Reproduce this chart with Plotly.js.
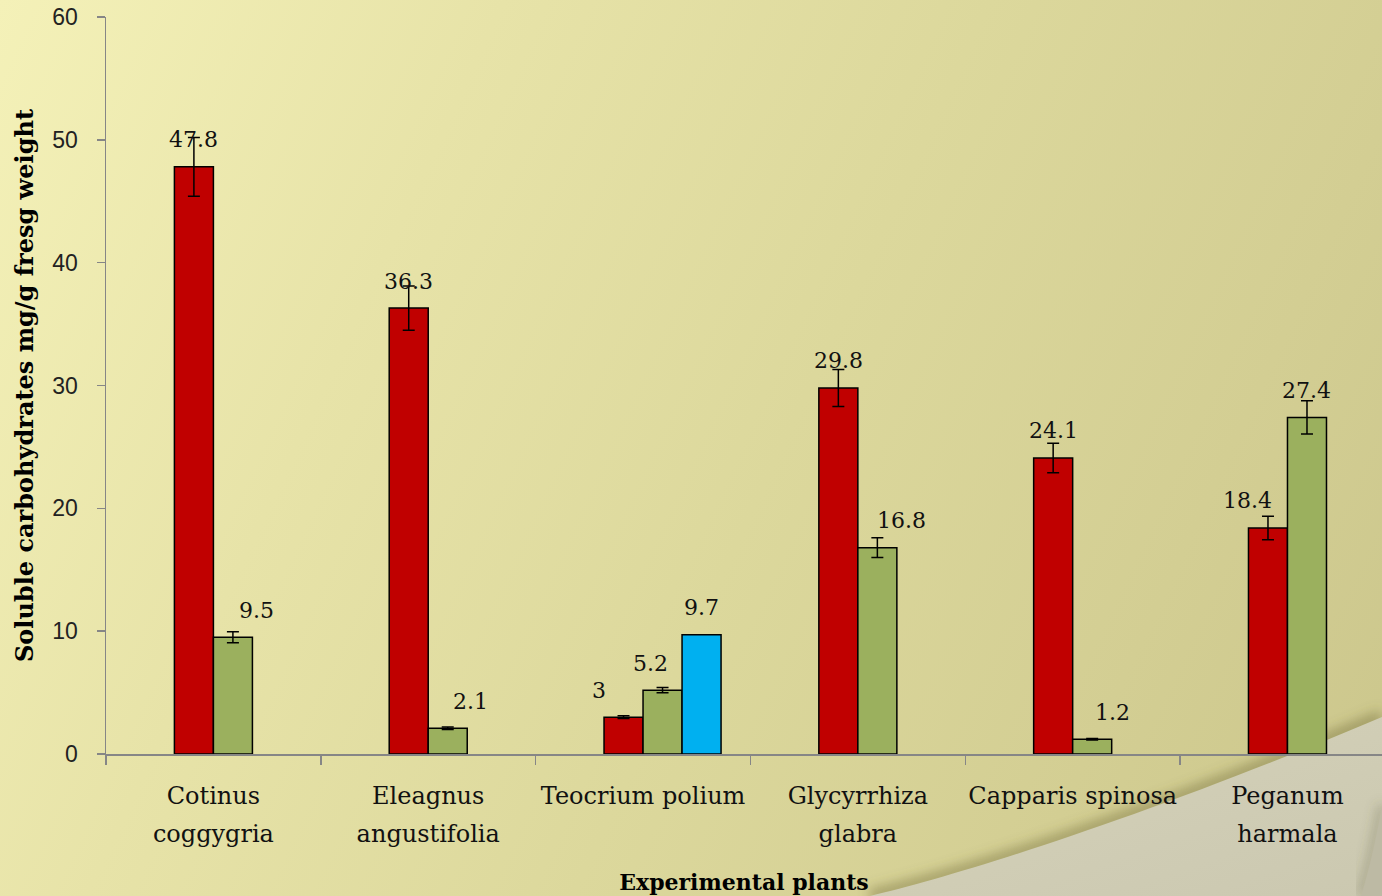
<!DOCTYPE html>
<html>
<head>
<meta charset="utf-8">
<script src="https://cdn.plot.ly/plotly-3.0.1.min.js"></script>
<style>
  html, body { margin:0; padding:0; overflow:hidden; }
  #wrap { position:relative; width:1382px; height:896px;
    background: linear-gradient(115deg, #f4f1b8 0%, #e7e3a8 28%, #dcd89c 55%, #d3ce93 80%, #cbc68c 100%); }
  #curl { position:absolute; left:0; top:0; }
  #chart { position:absolute; left:0; top:0; width:1382px; height:896px; }
</style>
</head>
<body>
<div id="wrap">
  <svg id="curl" width="1382" height="896">
    <defs>
      <filter id="blur" x="-20%" y="-20%" width="140%" height="140%"><feGaussianBlur stdDeviation="6"/></filter>
      <linearGradient id="lightG" x1="0" y1="0" x2="1" y2="1">
        <stop offset="0" stop-color="#d6d3bb"/>
        <stop offset="1" stop-color="#cbc8b0"/>
      </linearGradient>
    </defs>
    <path d="M 870 896 C 960 875, 1150 815, 1382 717" fill="none" stroke="rgba(110,105,55,0.45)" stroke-width="14" filter="url(#blur)"/>
    <path d="M 870 896 C 960 875, 1150 815, 1382 717 L 1382 896 Z" fill="url(#lightG)"/>
    <path d="M 1382 805 C 1376 840, 1369 870, 1361 896" fill="none" stroke="rgba(90,88,60,0.35)" stroke-width="8" filter="url(#blur)"/>
    <path d="M 1382 805 C 1376 840, 1369 870, 1361 896 L 1382 896 Z" fill="#bdbaa4"/>
  </svg>
  <div id="chart"></div>
</div>
<script>
// ---- data ----
const categories = ["Cotinus<br>coggygria", "Eleagnus<br>angustifolia", "Teocrium polium",
                    "Glycyrrhiza<br>glabra", "Capparis spinosa", "Peganum<br>harmala"];
const redValues   = [47.8, 36.3, 3, 29.8, 24.1, 18.4];
const redErrors   = [2.4, 1.8, 0.12, 1.5, 1.2, 0.95];
const greenValues = [9.5, 2.1, 5.2, 16.8, 1.2, 27.4];
const greenErrors = [0.45, 0.1, 0.22, 0.8, 0.06, 1.35];
const blueValues  = [null, null, 9.7, null, null, null];
const yTickValues = [0, 10, 20, 30, 40, 50, 60];

// ---- style ----
const serif = "DejaVu Serif";
const barW = 0.1816;
const redLabelNudge   = [0, 0, -25, 0, 0, -20];
const greenLabelNudge = [24, 23, -12, 24, 20, 0];
const blueLabelNudge  = [0, 0, 0, 0, 0, 0];

const redOffset   = categories.map(() => -barW);
const greenOffset = categories.map(() => 0);
const blueOffset  = categories.map(() => barW);

const outline = {color: '#000', width: 1.5};
function errs(a) { return {type: 'data', array: a, visible: true, color: '#000', thickness: 1.5, width: 6}; }

const traces = [
  {type: 'bar', x: categories, y: redValues, width: barW, offset: redOffset,
   marker: {color: '#C00000', line: outline}, error_y: errs(redErrors), hoverinfo: 'y'},
  {type: 'bar', x: categories, y: greenValues, width: barW, offset: greenOffset,
   marker: {color: '#9BB05E', line: outline}, error_y: errs(greenErrors), hoverinfo: 'y'},
  {type: 'bar', x: categories, y: blueValues, width: barW, offset: blueOffset,
   marker: {color: '#00B0F0', line: outline}, hoverinfo: 'y'}
];

const annotations = [];
function addLabels(vals, offs, nudge) {
  vals.forEach((v, i) => {
    if (v === null || v === undefined) return;
    annotations.push({x: i + offs[i] + barW / 2, y: v, xref: 'x', yref: 'y', text: String(v),
      showarrow: false, yanchor: 'middle', xanchor: 'center', yshift: 27, xshift: nudge[i],
      font: {family: serif, size: 22, color: '#111'}});
  });
}
addLabels(redValues, redOffset, redLabelNudge);
addLabels(greenValues, greenOffset, greenLabelNudge);
addLabels(blueValues, blueOffset, blueLabelNudge);

const tickText = categories.map(c => c.split('<br>').map(l => '<span style="font-size:24px">' + l + '</span>').join('<br>'));

const layout = {
  width: 1382, height: 896,
  margin: {l: 106, r: 0, t: 17, b: 142, pad: 0},
  paper_bgcolor: 'rgba(0,0,0,0)', plot_bgcolor: 'rgba(0,0,0,0)',
  showlegend: false, barmode: 'overlay',
  xaxis: {type: 'category', range: [-0.5, 5.44], tickmode: 'array', tickvals: categories, ticktext: tickText,
    tickangle: 0,
    showline: true, linecolor: '#868686', linewidth: 1.5, ticks: 'outside', ticklen: 9, tickwidth: 1.5,
    tickcolor: '#868686', tickson: 'boundaries', showgrid: false, zeroline: false, automargin: false,
    tickfont: {family: serif, size: 29, color: '#111'}, ticklabelstandoff: 14,
    title: {text: '<b>Experimental plants</b>', font: {family: serif, size: 22, color: '#000'}, standoff: 27}},
  yaxis: {range: [0, 60], tickmode: 'array', tickvals: yTickValues, showline: true, linecolor: '#868686',
    linewidth: 1.5, ticks: 'outside', ticklen: 8, tickwidth: 1.5, tickcolor: '#868686', showgrid: false,
    zeroline: false, automargin: false, tickfont: {family: 'Liberation Sans', size: 23, color: '#222'},
    ticklabelstandoff: 14,
    title: {text: '<b>Soluble carbohydrates mg/g fresg weight</b>', font: {family: serif, size: 24, color: '#000'}, standoff: 12}},
  annotations: annotations
};

Plotly.newPlot('chart', traces, layout, {staticPlot: true, displayModeBar: false});
</script>
</body>
</html>
